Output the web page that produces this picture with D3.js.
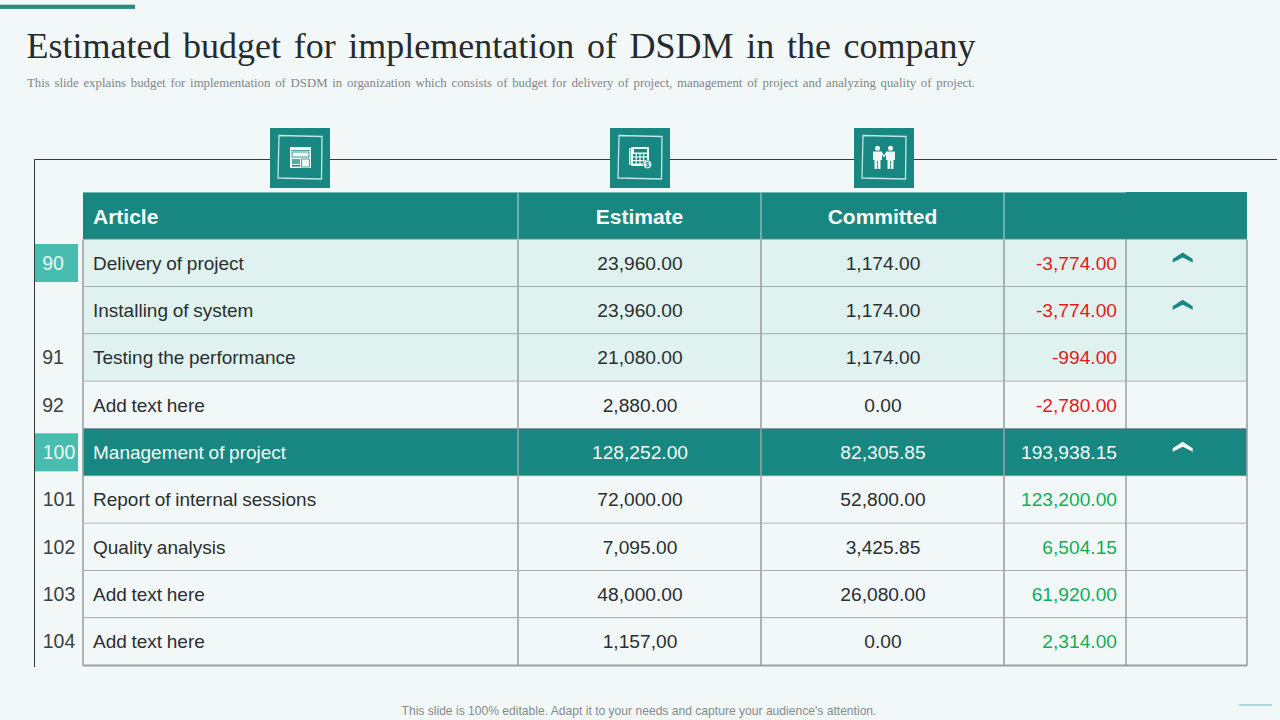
<!DOCTYPE html>
<html><head><meta charset="utf-8">
<script src="https://cdnjs.cloudflare.com/ajax/libs/d3/7.8.5/d3.min.js"></script>
<style>html,body{margin:0;padding:0;background:#f2f8f8;overflow:hidden}svg{display:block}</style>
</head><body><svg id="c" width="1280" height="720"></svg>
<script>
const titleText = "Estimated budget for implementation of DSDM in the company";
const subtitleText = "This slide explains budget for implementation of DSDM in organization which consists of budget for delivery of project, management of project and analyzing quality of project.";
const footerText = "This slide is 100% editable. Adapt it to your needs and capture your audience's attention.";
const headers = ["Article", "Estimate", "Committed", "", ""];
const codes = ["90", "", "91", "92", "100", "101", "102", "103", "104"];
const articles = ["Delivery of project", "Installing of system", "Testing the performance", "Add text here", "Management of project", "Report of internal sessions", "Quality analysis", "Add text here", "Add text here"];
const estimates = ["23,960.00", "23,960.00", "21,080.00", "2,880.00", "128,252.00", "72,000.00", "7,095.00", "48,000.00", "1,157,00"];
const committed = ["1,174.00", "1,174.00", "1,174.00", "0.00", "82,305.85", "52,800.00", "3,425.85", "26,080.00", "0.00"];
const variance = ["-3,774.00", "-3,774.00", "-994.00", "-2,780.00", "193,938.15", "123,200.00", "6,504.15", "61,920.00", "2,314.00"];
const varianceKind = ["neg", "neg", "neg", "neg", "total", "pos", "pos", "pos", "pos"];
const rowKind = ["tint", "tint", "tint", "plain", "total", "plain", "plain", "plain", "plain"];
const arrows = [1, 1, 0, 0, 1, 0, 0, 0, 0];
const highlightedCodes = ["90", "100"];
const columnEdges = [83, 518, 761, 1004, 1126, 1247];
const iconCentres = [300, 640, 884];

const TEAL = "#188781", LIGHT = "#dff2ef", CODE = "#47bdb0", INK = "#262b2e", GRID = "#98a1a1";
const svg = d3.select("#c");
const y = d3.scaleBand().domain(d3.range(codes.length)).range([239.5, 665.5]).padding(0);
const sans = "'Liberation Sans', Arial, sans-serif", serif = "'Liberation Serif', 'Times New Roman', serif";

function fitWords(sel, target){
  const spaces = sel.text().split(" ").length - 1;
  const natural = sel.node().getComputedTextLength();
  sel.attr("word-spacing", (target - natural) / spaces);
}

// Background and top accent
svg.append("rect").attr("width",1280).attr("height",720).attr("fill","#f2f8f8");
svg.append("rect").attr("x",0).attr("y",4.7).attr("width",135).attr("height",4.2).attr("fill","#2a8a83");

// Title block
svg.append("text").attr("x",26.5).attr("y",58).attr("font-family",serif).attr("font-size",36)
  .attr("fill",INK).text(titleText).call(fitWords,949);
svg.append("text").attr("x",27).attr("y",87).attr("font-family",serif).attr("font-size",12.8)
  .attr("fill","#7f8687").text(subtitleText).call(fitWords,948);

// Frame line
svg.append("path").attr("d","M1277 159.5H34.5V667").attr("fill","none").attr("stroke","#2e3a3c").attr("stroke-width",1);

// Header band
svg.append("rect").attr("x",83).attr("y",192).attr("width",1164).attr("height",47.5).attr("fill",TEAL);
svg.append("line").attr("x1",83).attr("x2",1126).attr("y1",192.5).attr("y2",192.5).attr("stroke","#6fb9b3");
svg.append("line").attr("x1",83).attr("x2",1247).attr("y1",239).attr("y2",239).attr("stroke","#4b8582").attr("stroke-width",1.5);
[518,761,1004].forEach(x=>svg.append("line").attr("x1",x).attr("x2",x).attr("y1",192).attr("y2",239)
  .attr("stroke","#7fc0bb").attr("stroke-width",1.5));
headers.forEach((h,i)=>{ if(!h) return;
  const cx=(columnEdges[i]+columnEdges[i+1])/2;
  svg.append("text").attr("x",i===0?93:cx).attr("y",224).attr("text-anchor",i===0?"start":"middle")
    .attr("font-family",sans).attr("font-weight",700).attr("font-size",21).attr("fill","#f6fbfb").text(h);
});

// Rows
const rows = svg.append("g").selectAll("g").data(codes.map((c,i)=>i)).join("g")
  .attr("transform",i=>`translate(0,${y(i)})`);
const h = y.bandwidth();
rows.append("rect").attr("x",83).attr("width",1164).attr("height",h)
  .attr("fill",i=>rowKind[i]==="tint"?LIGHT:rowKind[i]==="total"?TEAL:"#f2f8f8");
rows.append("line").attr("x1",83).attr("x2",1247).attr("y1",h).attr("y2",h).attr("stroke",GRID)
  .attr("stroke-width",i=>i===codes.length-1?2.2:1.6);
columnEdges.forEach((x,k)=>{
  rows.append("line").attr("x1",x).attr("x2",x).attr("y1",0).attr("y2",h)
    .attr("stroke",k===4?"#6f7878":GRID).attr("stroke-width",k===4?1:1.6);
});
rows.filter(i=>rowKind[i]==="total").selectAll("line").filter(function(){return +this.getAttribute("x1")===1126}).attr("opacity",0);

const txt=(sel,x,anchor,f,fill,size,ws)=>sel.append("text").attr("x",x).attr("y",h/2+6.6).attr("text-anchor",anchor)
  .attr("font-family",sans).attr("font-size",size).attr("word-spacing",ws).attr("fill",fill).text(f);
const onRow=(i,c)=>rowKind[i]==="total"?"#f4fbfa":c;
rows.each(function(i){
  const r=d3.select(this);
  txt(r,93,"start",articles[i],onRow(i,"#2a2f31"),19,-0.6);
  txt(r,640,"middle",estimates[i],onRow(i,"#2a2f31"),19.2,0);
  txt(r,883,"middle",committed[i],onRow(i,"#2a2f31"),19.2,0);
  txt(r,1117,"end",variance[i],varianceKind[i]==="neg"?"#e41b1b":varianceKind[i]==="pos"?"#12ae56":"#f4fbfa",19.2,0);
  if(codes[i]){
    const hi=highlightedCodes.includes(codes[i]);
    if(hi) r.append("rect").attr("x",35).attr("y",4.5).attr("width",43).attr("height",38).attr("fill",CODE);
    r.append("text").attr("x",codes[i].length===2?53:59).attr("y",h/2+6.6).attr("text-anchor","middle")
      .attr("font-family",sans).attr("font-size",19.5).attr("fill",hi?"#eaf8f6":"#3a4143").text(codes[i]);
  }
  if(arrows[i]){
    r.append("path").attr("transform",`translate(1182.7,${h/2-6.7})`)
      .attr("d","M-10 2.5L0 -4L10 2.5V6L0 1L-10 6Z")
      .attr("fill",rowKind[i]==="total"?"#f4fbfa":TEAL);
  }
});

// Icons
const icons = svg.append("g").selectAll("g").data(iconCentres).join("g").attr("transform",d=>`translate(${d},158)`);
icons.append("rect").attr("x",-30).attr("y",-30).attr("width",60).attr("height",60).attr("fill",TEAL);
icons.append("path").attr("d","M-21 -22.5L22 -21.5L21.5 21L-22 20Z").attr("fill","none").attr("stroke","#bfe7e3").attr("stroke-width",1.3);
const W="#eef8f7";
// window icon
const a=icons.filter((d,i)=>i===0);
a.append("rect").attr("x",-10).attr("y",-11).attr("width",21).attr("height",21).attr("fill",W);
a.append("rect").attr("x",-8).attr("y",-6).attr("width",17).attr("height",5).attr("fill","none").attr("stroke",TEAL).attr("stroke-width",.8);
a.append("rect").attr("x",-8).attr("y",1).attr("width",8).attr("height",5).attr("fill",TEAL).attr("opacity",.7);
a.append("rect").attr("x",-8).attr("y",7).attr("width",8).attr("height",1.5).attr("fill",TEAL);
a.append("rect").attr("x",1.5).attr("y",1).attr("width",8).attr("height",8).attr("fill","none").attr("stroke",TEAL).attr("stroke-width",.7);
a.append("line").attr("x1",-9).attr("x2",10).attr("y1",-7.5).attr("y2",-7.5).attr("stroke",TEAL).attr("stroke-width",.7);
// calculator / invoice icon
const b=icons.filter((d,i)=>i===1);
b.append("rect").attr("x",-9).attr("y",-11).attr("width",18).attr("height",19).attr("rx",1).attr("fill",W);
b.append("rect").attr("x",-11).attr("y",-10).attr("width",1.5).attr("height",17).attr("fill",W);
b.append("rect").attr("x",-6).attr("y",-9).attr("width",13).attr("height",3.5).attr("fill",TEAL);
d3.range(3).forEach(r=>d3.range(4).forEach(k=>
  b.append("rect").attr("x",-7+k*3.8).attr("y",-4+r*3.6).attr("width",2.6).attr("height",2.4).attr("fill",TEAL)));
b.append("circle").attr("cx",7.5).attr("cy",6.5).attr("r",4.2).attr("fill",W).attr("stroke",TEAL).attr("stroke-width",.6);
b.append("text").attr("x",7.5).attr("y",9).attr("text-anchor","middle").attr("font-size",7).attr("font-weight",700).attr("font-family",sans).attr("fill",TEAL).text("$");
// people icon
const c=icons.filter((d,i)=>i===2);
[-6.5,6.5].forEach(dx=>{
  c.append("circle").attr("cx",dx).attr("cy",-9.7).attr("r",2.5).attr("fill",W);
  c.append("path").attr("transform",`translate(${dx},0)`).attr("d","M-4.5 -6.5H4.5V2H3V11H0.4V3H-0.4V11H-3V2H-4.5Z").attr("fill",W);
});
c.append("path").attr("d","M-2.5 -5.5L0 -1.5L2.5 -5.5").attr("fill","none").attr("stroke",W).attr("stroke-width",1.3);

// Footer
svg.append("text").attr("x",639).attr("y",715).attr("text-anchor","middle").attr("font-family",sans).attr("font-size",12.1)
  .attr("fill","#858b8c").text(footerText);
svg.append("line").attr("x1",1239).attr("x2",1272).attr("y1",705).attr("y2",705).attr("stroke","#6cbcc2").attr("stroke-width",1);
</script></body></html>
